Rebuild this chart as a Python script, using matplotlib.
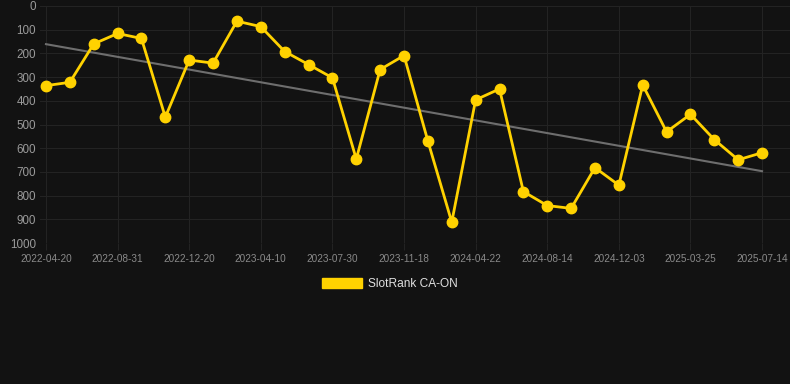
import matplotlib
matplotlib.use("Agg")
import matplotlib.pyplot as plt
from matplotlib.patches import Patch

# rank, one point per snapshot (evenly spaced on the axis)
ranks = [336, 322, 160, 116, 137, 469, 228, 241, 64, 87,
         192, 247, 303, 646, 268, 209, 570, 912, 396, 350,
         783, 842, 854, 682, 756, 333, 531, 457, 564, 649, 619]
tick_labels = ["2022-04-20", "2022-08-31", "2022-12-20", "2023-04-10",
               "2023-07-30", "2023-11-18", "2024-04-22", "2024-08-14",
               "2024-12-03", "2025-03-25", "2025-07-14"]
trend_start, trend_end = 161, 697
series_name = "SlotRank CA-ON"

bg = "#121212"
gold = "#ffd200"

plt.rcParams["font.family"] = ["Liberation Sans", "DejaVu Sans"]

fig = plt.figure(figsize=(7.9, 3.84), dpi=100, facecolor=bg)
ax = fig.add_axes([40 / 790, 1 - 243 / 384, 750 / 790, 237 / 384])
ax.set_facecolor(bg)

x = list(range(len(ranks)))
ax.plot([x[0], x[-1]], [trend_start, trend_end], color="#6e6e6e", lw=1.5, zorder=2)
ax.plot(x, ranks, color=gold, lw=2.0, marker="o", markersize=7.5, zorder=3)

ax.set_ylim(1000, 0)
ax.set_yticks(range(0, 1001, 100))
ax.set_xlim(-0.25, 31.17)
ax.set_xticks(x[::3])
ax.set_xticklabels(tick_labels)

ax.grid(True, color="#232323", lw=0.8)
ax.set_axisbelow(True)
for s in ax.spines.values():
    s.set_visible(False)
ax.tick_params(axis="x", colors="#232323", labelcolor="#8a8a8a", labelsize=7.2, length=5, pad=3)
ax.tick_params(axis="y", length=0, labelcolor="#9a9a9a", labelsize=8.4, pad=3)

fig.legend(handles=[Patch(color=gold, label=series_name)], loc="center",
           bbox_to_anchor=(390 / 790, 1 - 284 / 384), frameon=False,
           labelcolor="#e0e0e0", fontsize=8.6, handlelength=3.3, handleheight=0.95,
           handletextpad=0.55)

fig.savefig("out.png", dpi=100, facecolor=bg)
